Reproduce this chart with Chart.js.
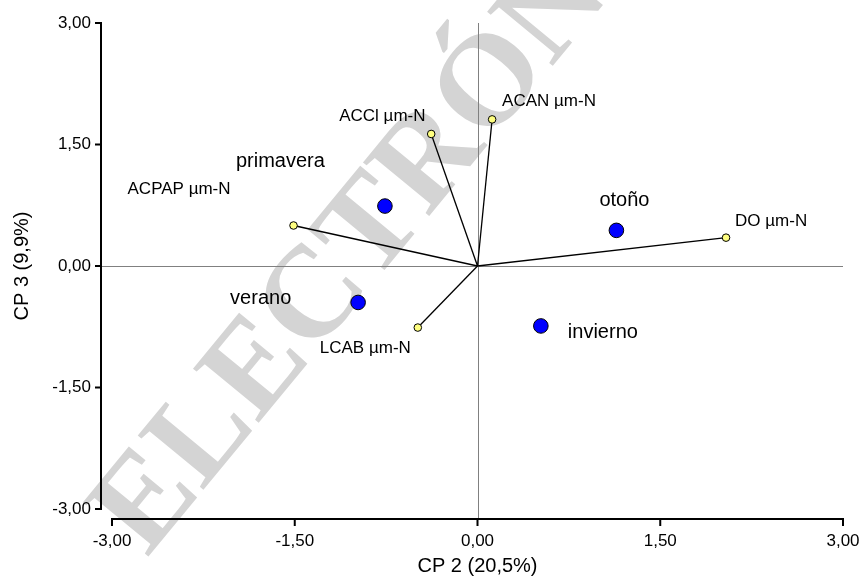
<!DOCTYPE html>
<html>
<head>
<meta charset="utf-8">
<script src="https://cdn.jsdelivr.net/npm/chart.js@4.4.1/dist/chart.umd.min.js"></script>
<style>
  html, body { margin: 0; padding: 0; background: #ffffff; }
  canvas { display: block; }
</style>
</head>
<body>
<canvas id="biplot" width="861" height="579"></canvas>
<script>
// Loadings of the nitrogen variables on CP 2 / CP 3
const variables = ['ACPAP µm-N', 'ACCl µm-N', 'ACAN µm-N', 'DO µm-N', 'LCAB µm-N'];
const varCP2 = [-1.51, -0.38, 0.12, 2.04, -0.49];
const varCP3 = [0.50, 1.63, 1.81, 0.35, -0.76];

// Season scores
const seasons = ['primavera', 'verano', 'otoño', 'invierno'];
const seasonCP2 = [-0.76, -0.98, 1.14, 0.52];
const seasonCP3 = [0.74, -0.45, 0.44, -0.74];

// Axis ticks
const tickValues = [-3, -1.5, 0, 1.5, 3];

const watermarkText = 'ELECTRÓNICA';

// Label placement (pixel offsets from each marker to the text's left baseline)
const varLabelOffsets = [
  { dx: -166, dy: -32 },
  { dx: -92, dy: -13 },
  { dx: 10, dy: -13 },
  { dx: 9, dy: -12 },
  { dx: -98, dy: 25 }
];
const seasonLabelOffsets = [
  { dx: -149, dy: -39 },
  { dx: -128, dy: 2 },
  { dx: -17, dy: -24 },
  { dx: 27, dy: 12 }
];

const SANS = '"Liberation Sans", Arial, sans-serif';
const fmt = v => Number(v).toFixed(2).replace('.', ',');

const biplotDecor = {
  id: 'biplotDecor',
  beforeDraw(chart) {
    const ctx = chart.ctx;
    ctx.save();
    ctx.fillStyle = '#d4d4d4';
    ctx.font = 'bold 130px "Liberation Serif", "DejaVu Serif", serif';
    ctx.translate(121, 537);
    ctx.rotate(-50.5 * Math.PI / 180);
    ctx.textBaseline = 'middle';
    ctx.textAlign = 'left';
    ctx.fillText(watermarkText, 0, 0);
    ctx.restore();
  },
  beforeDatasetsDraw(chart) {
    const { ctx, scales: { x, y } } = chart;
    const x0 = Math.round(x.getPixelForValue(0)) + 0.5;
    const y0 = Math.round(y.getPixelForValue(0)) + 0.5;
    const top = y.getPixelForValue(3), bottom = y.getPixelForValue(-3);
    const left = x.getPixelForValue(-3), right = x.getPixelForValue(3);
    const axisX = left - 11;
    const axisY = bottom + 10;
    ctx.save();
    // zero reference lines
    ctx.strokeStyle = '#808080';
    ctx.lineWidth = 1;
    ctx.beginPath();
    ctx.moveTo(axisX, y0); ctx.lineTo(right, y0);
    ctx.moveTo(x0, top); ctx.lineTo(x0, axisY);
    ctx.stroke();
    // axis lines with outward tick marks
    ctx.strokeStyle = '#000000';
    ctx.lineWidth = 2;
    ctx.beginPath();
    ctx.moveTo(axisX, top); ctx.lineTo(axisX, bottom);
    ctx.moveTo(left, axisY); ctx.lineTo(right, axisY);
    tickValues.forEach(v => {
      const py = y.getPixelForValue(v);
      ctx.moveTo(axisX - 6, py); ctx.lineTo(axisX + 1, py);
      const px = x.getPixelForValue(v);
      ctx.moveTo(px, axisY - 1); ctx.lineTo(px, axisY + 7);
    });
    ctx.stroke();
    ctx.restore();
  },
  afterDatasetsDraw(chart) {
    const { ctx, scales: { x, y } } = chart;
    ctx.save();
    ctx.fillStyle = '#000000';
    ctx.textAlign = 'left';
    ctx.textBaseline = 'alphabetic';
    ctx.font = '17px ' + SANS;
    variables.forEach((name, i) => {
      const o = varLabelOffsets[i];
      ctx.fillText(name, x.getPixelForValue(varCP2[i]) + o.dx, y.getPixelForValue(varCP3[i]) + o.dy);
    });
    ctx.font = '20px ' + SANS;
    seasons.forEach((name, i) => {
      const o = seasonLabelOffsets[i];
      ctx.fillText(name, x.getPixelForValue(seasonCP2[i]) + o.dx, y.getPixelForValue(seasonCP3[i]) + o.dy);
    });
    ctx.restore();
  }
};

const vectorSets = variables.map((name, i) => ({
  label: name,
  data: [{ x: 0, y: 0 }, { x: varCP2[i], y: varCP3[i] }],
  showLine: true,
  borderColor: '#000000',
  borderWidth: 1.3,
  pointRadius: [0, 3.8],
  pointBackgroundColor: '#ffff80',
  pointBorderColor: '#000000',
  pointBorderWidth: 1,
  order: 2
}));

const seasonSet = {
  label: 'Estaciones',
  data: seasons.map((s, i) => ({ x: seasonCP2[i], y: seasonCP3[i] })),
  showLine: false,
  pointRadius: 7.3,
  pointBackgroundColor: '#0000ff',
  pointBorderColor: '#000000',
  pointBorderWidth: 1,
  order: 1
};

const setTicks = s => { s.ticks = tickValues.map(v => ({ value: v })); };

new Chart(document.getElementById('biplot'), {
  type: 'scatter',
  data: { datasets: [seasonSet, ...vectorSets] },
  options: {
    responsive: false,
    animation: false,
    events: [],
    layout: { padding: { left: 0, top: 23, right: 18, bottom: 0 } },
    plugins: { legend: { display: false }, tooltip: { enabled: false } },
    scales: {
      x: {
        type: 'linear', min: -3, max: 3,
        afterBuildTicks: setTicks,
        afterFit: s => { s.height = 70; s.paddingLeft = 0; s.paddingRight = 0; },
        grid: { display: false, drawTicks: false },
        border: { display: false },
        ticks: { padding: 22, color: '#000000', font: { family: SANS, size: 17 }, callback: fmt, maxRotation: 0, autoSkip: false },
        title: { display: true, text: 'CP 2 (20,5%)', color: '#000000', font: { family: SANS, size: 20 }, padding: { top: 0, bottom: 1 } }
      },
      y: {
        type: 'linear', min: -3, max: 3,
        afterBuildTicks: setTicks,
        afterFit: s => { s.width = 112; s.paddingTop = 0; s.paddingBottom = 0; },
        grid: { display: false, drawTicks: false },
        border: { display: false },
        ticks: { padding: 21, color: '#000000', font: { family: SANS, size: 17 }, callback: fmt, autoSkip: false },
        title: { display: true, text: 'CP 3 (9,9%)', color: '#000000', font: { family: SANS, size: 20 }, padding: { top: 10, bottom: 0 } }
      }
    }
  },
  plugins: [biplotDecor]
});
</script>
</body>
</html>
